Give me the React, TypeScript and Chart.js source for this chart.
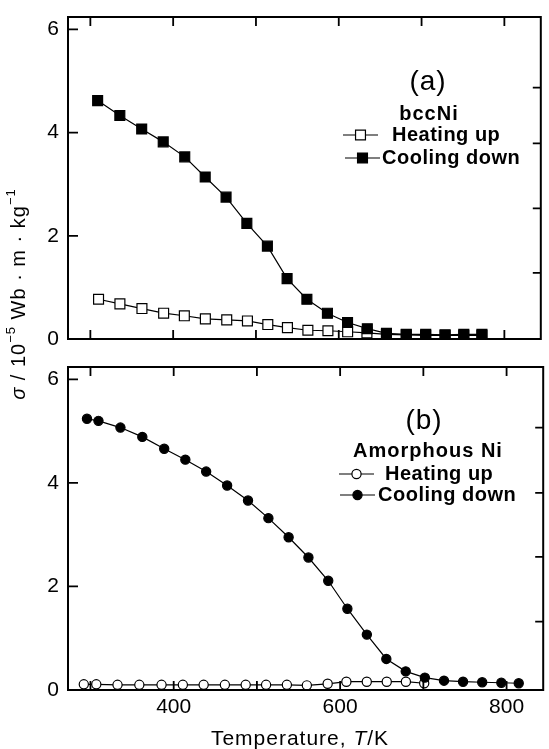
import { useEffect, useRef } from "react";
import { Chart, registerables } from "chart.js";

Chart.register(...registerables);

const FONT = "'Liberation Sans', Arial, Helvetica, sans-serif";

// Temperature axis (K) and magnetisation axis (10^-5 Wb·m·kg^-1)
const xMin = 273;
const xMax = 844;
const yMin = 0;
const yMax = 6.24;
const xTickMarks = [300, 400, 500, 600, 700, 800];
const xTickLabels = [400, 600, 800];
const yTickLabels = [0, 2, 4, 6];
const rightTicksA = [1.28, 2.53, 3.79, 4.87];
const rightTicksB = [1.32, 2.57, 3.81, 5.07];

// (a) bcc Ni
const coolTempA = [308.8, 335.6, 362, 388, 414, 438.7, 463.9, 489, 513.8, 537.6, 561.5, 586.3, 610.6, 634.5, 657.6, 681.5, 705, 728.4, 751, 772.9];
const coolA = [4.62, 4.33, 4.07, 3.82, 3.53, 3.14, 2.75, 2.24, 1.8, 1.17, 0.77, 0.5, 0.32, 0.2, 0.11, 0.09, 0.09, 0.08, 0.09, 0.09];
const heatTempA = [309.9, 335.7, 362.3, 388.5, 413.5, 438.9, 464.7, 489.7, 514.3, 538, 562.7, 586.9, 610.7, 634, 657.6, 681.5, 705, 728.4, 751, 772.9];
const heatA = [0.77, 0.68, 0.59, 0.5, 0.45, 0.39, 0.37, 0.35, 0.28, 0.22, 0.17, 0.16, 0.14, 0.12, 0.09, 0.08, 0.07, 0.07, 0.07, 0.07];

// (b) amorphous Ni
const coolTempB = [295.8, 309.6, 336, 362.3, 388.6, 414, 439, 464.2, 489.3, 513.8, 538.1, 561.9, 585.7, 608.7, 632.1, 655.5, 678.8, 701.8, 724.8, 747.7, 770.7, 793.7, 814.6];
const coolB = [5.24, 5.2, 5.07, 4.89, 4.66, 4.45, 4.22, 3.95, 3.66, 3.32, 2.95, 2.56, 2.11, 1.57, 1.07, 0.6, 0.36, 0.24, 0.18, 0.16, 0.15, 0.14, 0.13];
const heatTempB = [292, 307, 332.5, 358.7, 385.4, 411, 436, 461.5, 486.5, 511, 536, 560, 585, 607.5, 632, 656, 679, 701];
const heatB = [0.11, 0.11, 0.1, 0.1, 0.1, 0.1, 0.1, 0.1, 0.1, 0.1, 0.1, 0.09, 0.12, 0.16, 0.16, 0.16, 0.16, 0.13];

const heatLabel = "Heating up";
const coolLabel = "Cooling down";

type Run = { text: string; font: string; dy?: number };

function setSpacing(ctx: CanvasRenderingContext2D, s: string) {
  (ctx as any).letterSpacing = s;
}

function runsWidth(ctx: CanvasRenderingContext2D, runs: Run[]) {
  let w = 0;
  for (const r of runs) {
    ctx.font = r.font;
    w += ctx.measureText(r.text).width;
  }
  return w;
}

function drawRuns(ctx: CanvasRenderingContext2D, runs: Run[], x: number, y: number, align: "left" | "center") {
  ctx.textAlign = "left";
  ctx.textBaseline = "middle";
  let cx = align === "center" ? x - runsWidth(ctx, runs) / 2 : x;
  for (const r of runs) {
    ctx.font = r.font;
    ctx.fillText(r.text, cx, y + (r.dy || 0));
    cx += ctx.measureText(r.text).width;
  }
}

function drawMarker(ctx: CanvasRenderingContext2D, style: string, x: number, y: number, filled: boolean, r: number) {
  ctx.beginPath();
  if (style === "rect") {
    const s = Math.SQRT1_2 * r;
    ctx.rect(x - s, y - s, 2 * s, 2 * s);
  } else {
    ctx.arc(x, y, r, 0, Math.PI * 2);
  }
  ctx.fillStyle = filled ? "#000" : "#fff";
  ctx.fill();
  ctx.lineWidth = 1.2;
  ctx.strokeStyle = "#000";
  ctx.stroke();
}

type PanelDef = {
  tag: string;
  material: string;
  coolT: number[];
  cool: number[];
  heatT: number[];
  heat: number[];
  marker: "rect" | "circle";
  radius: number;
  rightTicks: number[];
  padTop: number;
  padBottom: number;
  showX: boolean;
  layout: {
    tag: [number, number];
    material: [number, number];
    heatRow: [number, number, number, number]; // line x0, line x1, y, text x
    coolRow: [number, number, number, number];
  };
};

const panelA: PanelDef = {
  tag: "(a)",
  material: "bccNi",
  coolT: coolTempA,
  cool: coolA,
  heatT: heatTempA,
  heat: heatA,
  marker: "rect",
  radius: 7,
  rightTicks: rightTicksA,
  padTop: 17,
  padBottom: 410,
  showX: false,
  layout: {
    tag: [428, 82],
    material: [429, 114],
    heatRow: [343, 378, 135, 392],
    coolRow: [345, 380, 158, 382],
  },
};

const panelB: PanelDef = {
  tag: "(b)",
  material: "Amorphous Ni",
  coolT: coolTempB,
  cool: coolB,
  heatT: heatTempB,
  heat: heatB,
  marker: "circle",
  radius: 4.6,
  rightTicks: rightTicksB,
  padTop: 367,
  padBottom: 0,
  showX: true,
  layout: {
    tag: [424, 421],
    material: [428, 451],
    heatRow: [339, 374, 474, 385],
    coolRow: [340, 375, 495, 378],
  },
};

function framePlugin(p: PanelDef) {
  return {
    id: "frame-" + p.tag,
    afterDraw(chart: any) {
      const ctx: CanvasRenderingContext2D = chart.ctx;
      const { left, right, top, bottom } = chart.chartArea;
      const xs = chart.scales.x;
      const ys = chart.scales.y;
      ctx.save();
      ctx.strokeStyle = "#000";
      ctx.lineWidth = 2;
      ctx.strokeRect(left, top, right - left, bottom - top);
      ctx.lineWidth = 1.8;
      ctx.beginPath();
      for (const v of xTickMarks) {
        const px = xs.getPixelForValue(v);
        ctx.moveTo(px, top);
        ctx.lineTo(px, top + 9);
        ctx.moveTo(px, bottom);
        ctx.lineTo(px, bottom - 9);
      }
      for (const v of yTickLabels) {
        const py = ys.getPixelForValue(v);
        ctx.moveTo(left, py);
        ctx.lineTo(left + 10, py);
      }
      for (const v of p.rightTicks) {
        const py = ys.getPixelForValue(v);
        ctx.moveTo(right, py);
        ctx.lineTo(right - 8, py);
      }
      ctx.stroke();

      // panel tag and key
      ctx.fillStyle = "#000";
      setSpacing(ctx, "1px");
      const L = p.layout;
      drawRuns(ctx, [{ text: p.tag, font: `28px ${FONT}` }], L.tag[0], L.tag[1], "center");
      drawRuns(ctx, [{ text: p.material, font: `bold 20px ${FONT}` }], L.material[0], L.material[1], "center");
      setSpacing(ctx, "0.5px");
      const ds = chart.data.datasets;
      const rows: [number[], any][] = [
        [L.heatRow, ds[1]],
        [L.coolRow, ds[0]],
      ];
      for (const [row, d] of rows) {
        ctx.strokeStyle = "#000";
        ctx.lineWidth = 1.2;
        ctx.beginPath();
        ctx.moveTo(row[0], row[2]);
        ctx.lineTo(row[1], row[2]);
        ctx.stroke();
        drawMarker(ctx, p.marker, (row[0] + row[1]) / 2, row[2], d.pointBackgroundColor === "#000", p.radius);
        ctx.fillStyle = "#000";
        drawRuns(ctx, [{ text: d.label, font: `bold 20px ${FONT}` }], row[3], row[2], "left");
      }
      setSpacing(ctx, "1px");

      if (p.showX) {
        // x-axis title
        drawRuns(
          ctx,
          [
            { text: "Temperature, ", font: `21px ${FONT}` },
            { text: "T", font: `italic 21px ${FONT}` },
            { text: "/K", font: `21px ${FONT}` },
          ],
          300,
          739,
          "center"
        );
        // shared y-axis title
        ctx.save();
        ctx.translate(19, 294);
        ctx.rotate(-Math.PI / 2);
        drawRuns(
          ctx,
          [
            { text: "σ", font: `italic 20px ${FONT}` },
            { text: " / 10", font: `20px ${FONT}` },
            { text: "−5", font: `13px ${FONT}`, dy: -8 },
            { text: " Wb · m · kg", font: `20px ${FONT}` },
            { text: "−1", font: `13px ${FONT}`, dy: -8 },
          ],
          0,
          0,
          "center"
        );
        ctx.restore();
      }
      setSpacing(ctx, "0px");
      ctx.restore();
    },
  };
}

function buildConfig(p: PanelDef): any {
  const pts = (xs: number[], ys: number[]) => xs.map((x, i) => ({ x, y: ys[i] }));
  const common = {
    borderColor: "#000",
    borderWidth: 1.2,
    pointStyle: p.marker,
    pointRadius: p.radius,
    pointBorderColor: "#000",
    pointBorderWidth: 1.2,
    tension: 0,
    fill: false,
  };
  return {
    type: "line",
    data: {
      datasets: [
        { ...common, label: coolLabel, data: pts(p.coolT, p.cool), pointBackgroundColor: "#000" },
        { ...common, label: heatLabel, data: pts(p.heatT, p.heat), pointBackgroundColor: "#fff" },
      ],
    },
    options: {
      responsive: false,
      animation: false,
      events: [],
      layout: { padding: { top: p.padTop, bottom: p.padBottom, left: 0, right: 2 } },
      plugins: { legend: { display: false }, tooltip: { enabled: false } },
      scales: {
        x: {
          type: "linear",
          min: xMin,
          max: xMax,
          display: p.showX,
          grid: { display: false, drawTicks: false },
          border: { display: false },
          afterBuildTicks: (s: any) => {
            s.ticks = xTickLabels.map((v) => ({ value: v }));
          },
          afterFit: (s: any) => {
            s.height = p.showX ? 59 : 0;
          },
          ticks: { color: "#000", padding: 5, maxRotation: 0, font: { size: 21, family: FONT } },
        },
        y: {
          type: "linear",
          min: yMin,
          max: yMax,
          grid: { display: false, drawTicks: false },
          border: { display: false },
          afterBuildTicks: (s: any) => {
            s.ticks = yTickLabels.map((v) => ({ value: v }));
          },
          afterFit: (s: any) => {
            s.width = 68;
            s.paddingTop = 0;
            s.paddingBottom = 0;
          },
          ticks: { color: "#000", padding: 9, font: { size: 21, family: FONT } },
        },
      },
    },
    plugins: [framePlugin(p)],
  };
}

function Panel({ def }: { def: PanelDef }) {
  const ref = useRef<HTMLCanvasElement | null>(null);
  useEffect(() => {
    if (!ref.current) return;
    const chart = new Chart(ref.current, buildConfig(def));
    return () => chart.destroy();
  }, [def]);
  return (
    <canvas
      ref={ref}
      width={549}
      height={749}
      style={{ position: "absolute", left: 0, top: 0, width: 549, height: 749 }}
    />
  );
}

export default function App() {
  return (
    <div style={{ position: "absolute", left: 0, top: 0, width: 549, height: 749, background: "#fff" }}>
      <Panel def={panelB} />
      <Panel def={panelA} />
    </div>
  );
}
